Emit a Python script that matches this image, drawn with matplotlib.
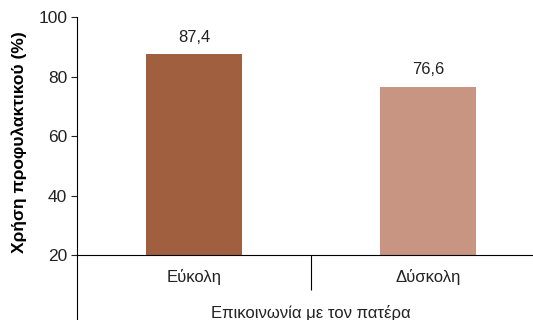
import matplotlib
matplotlib.use("Agg")
import matplotlib.pyplot as plt

categories = ["Εύκολη", "Δύσκολη"]
values = [87.4, 76.6]
value_labels = ["87,4", "76,6"]
bar_colors = ["#A06040", "#C99583"]
yticks = [20, 40, 60, 80, 100]

plt.rcParams["font.family"] = ["Liberation Sans", "DejaVu Sans"]

W, H = 533, 320
fig = plt.figure(figsize=(W / 100, H / 100), dpi=100)

# axes box in pixels: left 77, right 545 (runs past the canvas), top 17, bottom 320
left, right, top, bottom = 77, 545, 17, 320
ax = fig.add_axes([left / W, (H - bottom) / H, (right - left) / W, (bottom - top) / H])

base = 20
px_per_unit = (255 - top) / (100 - base)
ymin = base - (bottom - 255) / px_per_unit
ax.set_ylim(ymin, 100)
ax.set_xlim(-0.5, 1.5)

x = list(range(len(categories)))
bars = ax.bar(x, [v - base for v in values], bottom=base, width=0.41,
              color=bar_colors, zorder=2)

for xi, v, lab in zip(x, values, value_labels):
    ax.annotate(lab, (xi, v), xytext=(0, 7), textcoords="offset points",
                ha="center", va="bottom", fontsize=12, color="#222222")

for s in ["top", "right"]:
    ax.spines[s].set_visible(False)
ax.spines["bottom"].set_position(("data", base))
ax.spines["left"].set_linewidth(0.8)
ax.spines["bottom"].set_linewidth(0.8)

ax.set_yticks(yticks)
ax.set_yticklabels([str(t) for t in yticks], fontsize=12.5)
ax.tick_params(axis="y", length=4, width=0.8, pad=3, colors="#222222")

ax.set_xticks(x)
ax.set_xticklabels(categories, fontsize=12)
ax.tick_params(axis="x", which="major", length=0, pad=10, colors="#222222")
ax.set_xticks([0.5], minor=True)
ax.tick_params(axis="x", which="minor", length=25, width=0.8, direction="out")

ax.set_ylabel("Χρήση προφυλακτικού (%)", fontsize=12.5, fontweight="bold")
ax.yaxis.set_label_coords(-0.107, (bottom - 142) / (bottom - top))

ax.text(0.5, base - (313 - 255) / px_per_unit, "Επικοινωνία με τον πατέρα",
        ha="center", va="center", fontsize=12, color="#222222")

fig.savefig("out.png", dpi=100)
